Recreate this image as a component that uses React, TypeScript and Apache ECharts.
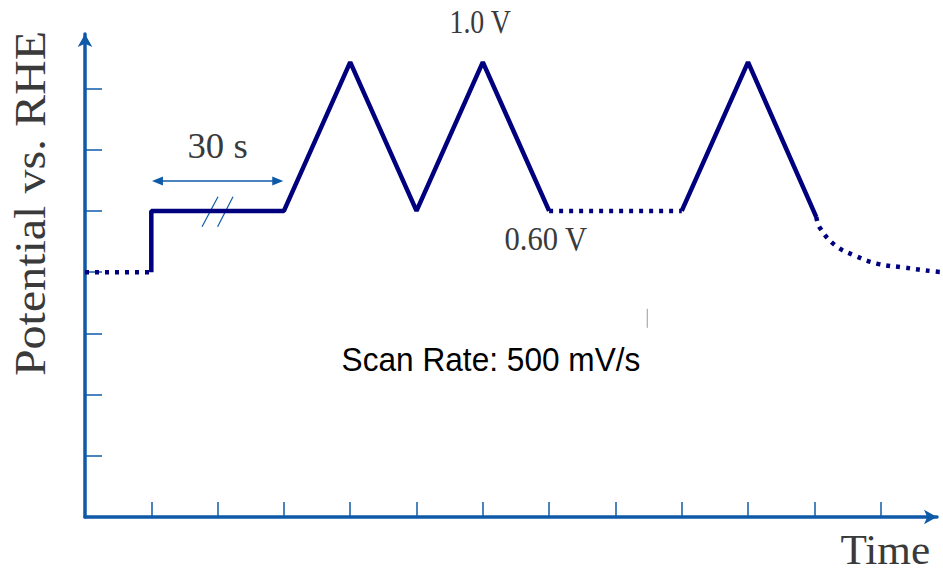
import React, { useEffect, useRef } from "react";
import * as echarts from "echarts";

// ---- data (axis units) ----
const xTickValues = [1, 2, 3, 4, 5, 6, 7, 8, 9, 10, 11, 12];
const yTickValues = [1, 2, 3, 4, 5, 6, 7];
const restDotted: number[][] = [[0, 4], [1, 4]];
const holdAndCycles: number[][] = [[1, 4], [1, 5], [3, 5], [4, 7.43], [5, 5], [6, 7.43], [7, 5]];
const gapDotted: number[][] = [[7, 5], [9, 5]];
const lastCycle: number[][] = [[9, 5], [10, 7.43], [11.03, 4.9]];
const decayDotted: number[][] = [
  [11.03, 4.9], [11.08, 4.73], [11.31, 4.44], [11.61, 4.27], [11.94, 4.14], [12.32, 4.08], [12.82, 4.01], [12.97, 4.0],
];

const AXIS_COLOR = "#0f5aa8";
const LINE_COLOR = "#00007e";
const TEXT_COLOR = "#3a3a3a";

export default function App() {
  const ref = useRef<HTMLDivElement>(null);
  useEffect(() => {
    if (!ref.current) return;
    const chart = echarts.init(ref.current, undefined, { renderer: "svg" });
    const solid = { color: LINE_COLOR, width: 4.5, join: "bevel" as const };
    const dotted = { color: LINE_COLOR, width: 4.5, type: [4, 6] as number[], cap: "butt" as const };
    const base = { type: "line" as const, showSymbol: false, symbol: "none", clip: false, silent: true };
    chart.setOption({
      animation: false,
      backgroundColor: "#ffffff",
      grid: { left: 85, right: 6, top: 34, bottom: 56 },
      xAxis: {
        type: "value",
        min: 0,
        max: 12.85,
        axisLine: {
          show: true,
          onZero: false,
          symbol: ["none", "arrow"],
          symbolSize: [11, 13],
          lineStyle: { color: AXIS_COLOR, width: 3.5 },
        },
        axisTick: { show: true, inside: true, length: 15, customValues: xTickValues, lineStyle: { color: AXIS_COLOR, width: 1.5 } },
        axisLabel: { show: false },
        splitLine: { show: false },
      },
      yAxis: {
        type: "value",
        min: 0,
        max: 7.89,
        axisLine: {
          show: true,
          onZero: false,
          symbol: ["none", "arrow"],
          symbolSize: [11, 13],
          lineStyle: { color: AXIS_COLOR, width: 3.5 },
        },
        axisTick: { show: true, inside: true, length: 17, customValues: yTickValues, lineStyle: { color: AXIS_COLOR, width: 1.5 } },
        axisLabel: { show: false },
        splitLine: { show: false },
      },
      series: [
        { ...base, name: "rest", data: restDotted, lineStyle: dotted },
        { ...base, name: "hold", data: holdAndCycles, lineStyle: solid },
        { ...base, name: "gap", data: gapDotted, lineStyle: dotted },
        { ...base, name: "last", data: lastCycle, lineStyle: solid },
        { ...base, name: "decay", data: decayDotted, smooth: 0.4, lineStyle: dotted },
      ],
    });

    const p = (x: number, y: number) => chart.convertToPixel({ gridIndex: 0 }, [x, y]) as number[];
    const serif = "Liberation Serif, 'Times New Roman', serif";
    const txt = (text: string, at: number[], size: number, sx: number, extra: any = {}) => ({
      type: "text",
      x: at[0],
      y: at[1],
      scaleX: sx,
      silent: true,
      ...extra,
      style: {
        text,
        x: 0,
        y: 0,
        align: "center",
        verticalAlign: "middle",
        fill: TEXT_COLOR,
        font: `${size}px ${serif}`,
      },
    });

    const aL = p(1.01, 5.49);
    const aR = p(2.99, 5.49);
    const s1a = p(2.006, 5.23), s1b = p(1.765, 4.74);
    const s2a = p(2.232, 5.23), s2b = p(2.0, 4.74);
    const tickA = p(8.48, 3.4), tickB = p(8.48, 3.09);
    const scanAt = p(3.87, 2.58);

    chart.setOption({
      graphic: [
        txt("1.0 V", p(5.96, 8.09), 34, 0.82),
        txt("0.60 V", p(6.95, 4.55), 34, 0.9),
        txt("30 s", p(2.0, 6.05), 35, 1.05),
        txt("Time", p(12.07, -0.53), 42, 1.03),
        txt("Potential vs. RHE", p(-0.83, 5.12), 44, 1.09, { rotation: Math.PI / 2 }),
        {
          type: "line",
          silent: true,
          shape: { x1: aL[0] + 8, y1: aL[1], x2: aR[0] - 8, y2: aR[1] },
          style: { stroke: AXIS_COLOR, lineWidth: 1.5 },
        },
        {
          type: "polygon",
          silent: true,
          shape: { points: [[aL[0], aL[1]], [aL[0] + 11, aL[1] - 4.5], [aL[0] + 11, aL[1] + 4.5]] },
          style: { fill: AXIS_COLOR },
        },
        {
          type: "polygon",
          silent: true,
          shape: { points: [[aR[0], aR[1]], [aR[0] - 11, aR[1] - 4.5], [aR[0] - 11, aR[1] + 4.5]] },
          style: { fill: AXIS_COLOR },
        },
        {
          type: "line",
          silent: true,
          shape: { x1: s1a[0], y1: s1a[1], x2: s1b[0], y2: s1b[1] },
          style: { stroke: AXIS_COLOR, lineWidth: 1.2 },
        },
        {
          type: "line",
          silent: true,
          shape: { x1: s2a[0], y1: s2a[1], x2: s2b[0], y2: s2b[1] },
          style: { stroke: AXIS_COLOR, lineWidth: 1.2 },
        },
        {
          type: "line",
          silent: true,
          shape: { x1: tickA[0], y1: tickA[1], x2: tickB[0], y2: tickB[1] },
          style: { stroke: "#9a9a9a", lineWidth: 1 },
        },
        {
          type: "text",
          x: scanAt[0],
          y: scanAt[1],
          scaleX: 0.93,
          silent: true,
          style: {
            text: "Scan Rate: 500 mV/s",
            x: 0,
            y: 0,
            align: "left",
            verticalAlign: "middle",
            fill: "#000000",
            font: "34px 'Liberation Sans', Arial, sans-serif",
          },
        },
      ],
    });

    return () => chart.dispose();
  }, []);

  return (
    <div
      ref={ref}
      style={{ position: "fixed", left: 0, top: 0, width: 943, height: 573, background: "#ffffff" }}
    />
  );
}
